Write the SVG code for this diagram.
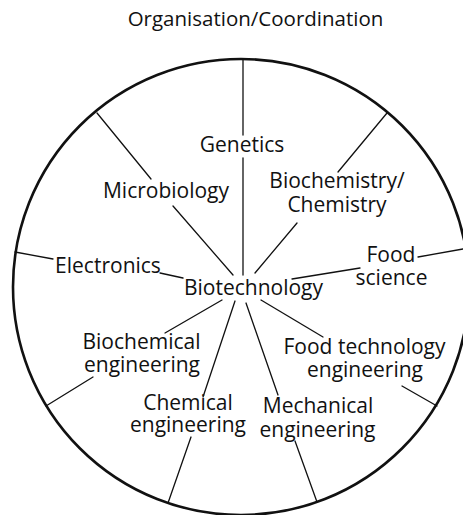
<svg xmlns="http://www.w3.org/2000/svg" width="463" height="515" viewBox="0 0 463 515">
  <style>
    .lbl { font-family: "Open Sans", "Liberation Sans", sans-serif; font-size: 21px; fill: #111; text-anchor: middle; }
    .title { font-family: "Open Sans", "Liberation Sans", sans-serif; font-size: 20.5px; fill: #111; text-anchor: middle; }
    .spoke { stroke: #111; stroke-width: 1.3; fill: none; stroke-linecap: round; }
    .rim { stroke: #111; stroke-width: 2.6; fill: none; }
  </style>
  <rect width="463" height="515" fill="#fff"/>

  <text class="title" x="255.5" y="26">Organisation/Coordination</text>

  <!-- outer ring -->
  <circle id="ring" class="rim" cx="241" cy="287" r="228"/>

  <!-- spokes from the hub to each discipline and on to the ring -->
  <g id="connectors">
    <line class="spoke" x1="243" y1="59" x2="243" y2="135"/>
    <line class="spoke" x1="243" y1="158" x2="243" y2="275"/>
    <line class="spoke" x1="97" y1="113" x2="151" y2="179"/>
    <line class="spoke" x1="173" y1="206" x2="233" y2="275"/>
    <line class="spoke" x1="387" y1="113" x2="338" y2="172"/>
    <line class="spoke" x1="297" y1="223" x2="255" y2="273"/>
    <line class="spoke" x1="418" y1="257" x2="463" y2="249"/>
    <line class="spoke" x1="360" y1="268" x2="292" y2="279"/>
    <line class="spoke" x1="15" y1="252" x2="53" y2="259"/>
    <line class="spoke" x1="160" y1="273" x2="183" y2="278"/>
    <line class="spoke" x1="222" y1="300" x2="165" y2="333"/>
    <line class="spoke" x1="93" y1="377" x2="46" y2="406"/>
    <line class="spoke" x1="235" y1="301" x2="203" y2="397"/>
    <line class="spoke" x1="191" y1="437" x2="168" y2="503"/>
    <line class="spoke" x1="246" y1="303" x2="278" y2="395"/>
    <line class="spoke" x1="295" y1="441" x2="317" y2="502"/>
    <line class="spoke" x1="261" y1="300" x2="323" y2="337"/>
    <line class="spoke" x1="402" y1="386" x2="437" y2="406"/>
  </g>

  <g id="biotechnology"><text class="lbl" x="253.5" y="295">Biotechnology</text></g>
  <g id="genetics"><text class="lbl" x="242" y="152">Genetics</text></g>
  <g id="microbiology"><text class="lbl" x="166" y="198">Microbiology</text></g>
  <g id="biochemistry"><text class="lbl" x="337" y="188">Biochemistry/</text><text class="lbl" x="337" y="212">Chemistry</text></g>
  <g id="food-science"><text class="lbl" x="391" y="262">Food</text><text class="lbl" x="391.5" y="285">science</text></g>
  <g id="electronics"><text class="lbl" x="108" y="273">Electronics</text></g>
  <g id="biochemical-engineering"><text class="lbl" x="141.5" y="349">Biochemical</text><text class="lbl" x="142" y="372">engineering</text></g>
  <g id="chemical-engineering"><text class="lbl" x="188" y="410">Chemical</text><text class="lbl" x="188" y="432">engineering</text></g>
  <g id="mechanical-engineering"><text class="lbl" x="318" y="413">Mechanical</text><text class="lbl" x="317.5" y="437">engineering</text></g>
  <g id="food-technology-engineering"><text class="lbl" x="364.5" y="354">Food technology</text><text class="lbl" x="365" y="377">engineering</text></g>
</svg>
